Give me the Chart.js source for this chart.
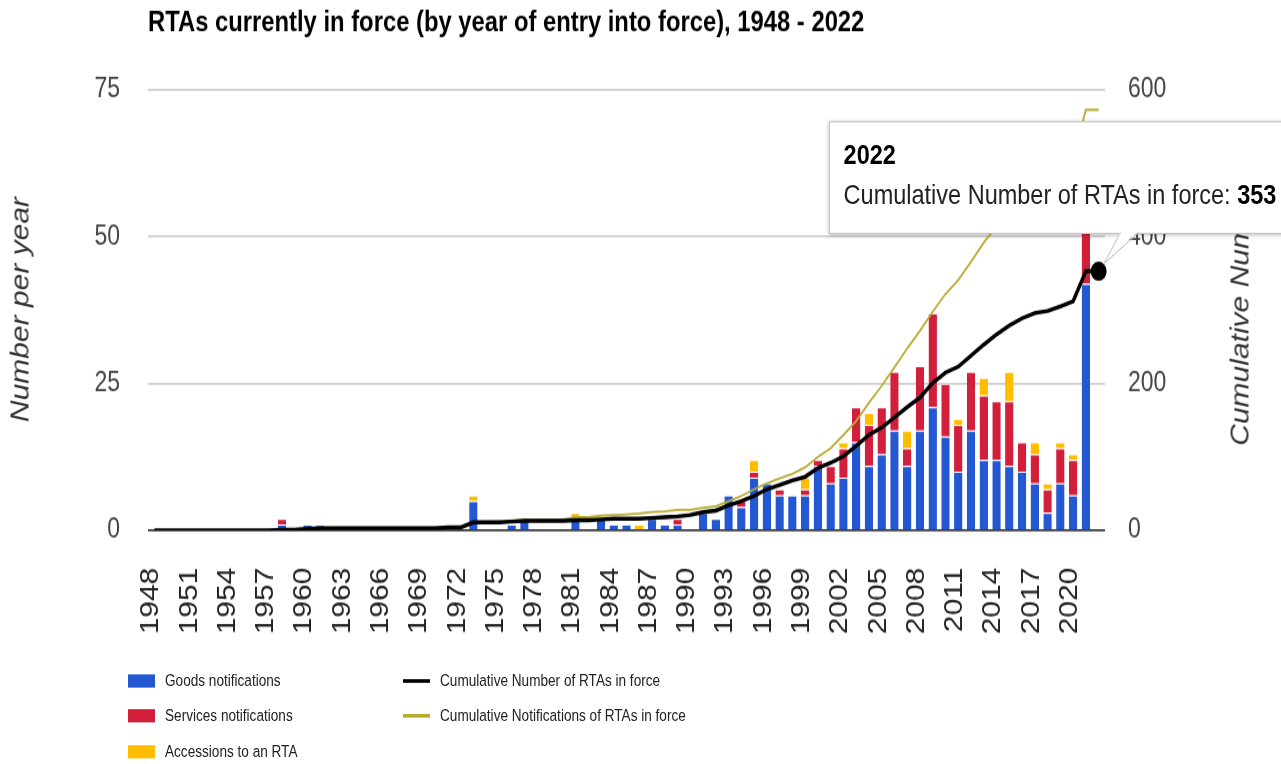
<!DOCTYPE html>
<html><head><meta charset="utf-8">
<script src="https://cdn.jsdelivr.net/npm/chart.js@4.4.1/dist/chart.umd.min.js"></script>
<style>
html,body{margin:0;padding:0;background:#fff;overflow:hidden;width:1281px;height:764px;}
#wrap{position:absolute;left:0;top:0;width:1281px;height:637px;transform:scaleY(1.2);transform-origin:0 0;font-family:"Liberation Sans",Arial,sans-serif;}
#c{position:absolute;left:0;top:0;}
.axt{position:absolute;font-style:italic;font-size:25px;color:#333;white-space:nowrap;transform:translate(-50%,-50%) rotate(-90deg);}
.lg{position:absolute;font-size:13.6px;color:#222;white-space:nowrap;line-height:1;}
.sw{position:absolute;}
#tip{position:absolute;background:#fff;border:1px solid #c4c4c4;box-shadow:0 1px 4px rgba(0,0,0,0.28);width:480px;}
#tip span{position:absolute;white-space:nowrap;line-height:1;font-size:23.5px;color:#222;}
#ptr{position:absolute;left:0;top:0;overflow:visible;}
</style></head>
<body>
<div id="wrap">
  <canvas id="c" width="1281" height="637"></canvas>
  <div class="axt" id="tl">Number per year</div>
  <div class="axt" id="tr">Cumulative Number</div>
  <div id="legend"></div>
  <div id="tip"><span id="tipTitle" style="font-weight:bold;color:#000"></span><span id="tipBody"></span></div>
  <svg id="ptr" width="1281" height="637"></svg>
</div>
<script>
// ---------- data ----------
const years = [1948,1949,1950,1951,1952,1953,1954,1955,1956,1957,
  1958,1959,1960,1961,1962,1963,1964,1965,1966,1967,
  1968,1969,1970,1971,1972,1973,1974,1975,1976,1977,
  1978,1979,1980,1981,1982,1983,1984,1985,1986,1987,
  1988,1989,1990,1991,1992,1993,1994,1995,1996,1997,
  1998,1999,2000,2001,2002,2003,2004,2005,2006,2007,
  2008,2009,2010,2011,2012,2013,2014,2015,2016,2017,
  2018,2019,2020,2021,2022];
const xTickYears = [1948,1951,1954,1957,1960,1963,1966,1969,1972,1975,1978,1981,1984,
  1987,1990,1993,1996,1999,2002,2005,2008,2011,2014,2017,2020];
const leftTicks = [0,25,50,75];
const rightTicks = [0,200,400,600];

const goods = [0,0,0,0,0,0,0,0,0,0,
  1,0,1,1,0,0,0,0,0,0,
  0,0,0,1,0,5,0,0,1,2,
  0,0,0,2,0,2,1,1,0,2,
  1,1,0,3,2,6,4,9,8,6,
  6,6,11,8,9,15,11,13,17,11,
  17,21,16,10,17,12,12,11,10,8,
  3,8,6,42,0];
const services = [0,0,0,0,0,0,0,0,0,0,
  1,0,0,0,0,0,0,0,0,0,
  0,0,0,0,0,0,0,0,0,0,
  0,0,0,0,0,0,0,0,0,0,
  0,1,0,0,0,0,1,1,0,1,
  0,1,1,3,5,6,7,8,10,3,
  11,16,9,8,10,11,10,11,5,5,
  4,6,6,17,0];
const accessions = [0,0,0,0,0,0,0,0,0,0,
  0,0,0,0,0,0,0,0,0,0,
  0,0,0,0,0,1,0,0,0,0,
  0,0,0,1,0,0,0,0,1,0,
  0,0,0,0,0,0,0,2,0,0,
  0,2,0,0,1,0,2,0,0,3,
  0,0,0,1,0,3,0,5,0,2,
  1,1,1,0,0];
const cumulativeInForce = [0,0,0,0,0,0,0,0,0,0,
  1,1,2,3,3,3,3,3,3,3,
  3,3,3,4,4,11,11,11,12,13,
  13,13,13,14,14,15,16,16,16,17,
  18,19,21,25,27,34,40,47,56,62,
  68,73,85,92,101,115,130,140,154,168,
  181,201,215,223,238,253,267,279,289,296,
  299,305,312,353,353];
const cumulativeNotifications = [0,0,0,0,0,0,0,0,0,0,
  2,2,3,4,4,4,4,4,4,4,
  4,4,4,5,5,11,12,12,13,15,
  15,15,15,18,18,20,21,22,23,25,
  26,28,28,31,33,40,47,56,64,71,
  77,86,100,112,130,149,174,197,222,248,
  272,298,322,341,366,392,414,440,455,470,
  478,493,506,573,573];

const barLabels = ['Goods notifications','Services notifications','Accessions to an RTA'];
const barColors = ['#2457d2','#d21f3c','#ffbd00'];
const lineLabels = ['Cumulative Number of RTAs in force','Cumulative Notifications of RTAs in force'];
const lineColors = ['#000000','#b8ac2f'];
const chartTitle = 'RTAs currently in force (by year of entry into force), 1948 - 2022';
const FONT = '"Liberation Sans", Arial, sans-serif';

const lastIdx = years.length - 1;

const chart = new Chart(document.getElementById('c'), {
  data: {
    labels: years,
    datasets: [
      {type:'line', label: lineLabels[0], data: cumulativeInForce, yAxisID:'y1', order:0,
       borderColor: lineColors[0], backgroundColor: lineColors[0], borderWidth:3.4, tension:0,
       pointRadius: c => c.dataIndex === lastIdx ? 8 : 0, pointBackgroundColor:'#000', pointBorderWidth:0},
      {type:'line', label: lineLabels[1], data: cumulativeNotifications, yAxisID:'y1', order:1,
       borderColor: lineColors[1], backgroundColor: lineColors[1], borderWidth:1.8, tension:0, pointRadius:0},
      {type:'bar', label: barLabels[0], data: goods, backgroundColor: barColors[0], yAxisID:'y', order:2,
       borderColor:'#ffffff', borderWidth:{top:1,left:0,right:0,bottom:0}},
      {type:'bar', label: barLabels[1], data: services, backgroundColor: barColors[1], yAxisID:'y', order:2,
       borderColor:'#ffffff', borderWidth:{top:1,left:0,right:0,bottom:0}},
      {type:'bar', label: barLabels[2], data: accessions, backgroundColor: barColors[2], yAxisID:'y', order:2,
       borderColor:'#ffffff', borderWidth:{top:1,left:0,right:0,bottom:0}}
    ]
  },
  options: {
    responsive:false, animation:false, events:[],
    devicePixelRatio:1,
    datasets:{bar:{barPercentage:0.66, categoryPercentage:1}},
    layout:{padding:{top:0,left:0,right:0,bottom:0}},
    plugins:{
      legend:{display:false}, tooltip:{enabled:false},
      title:{display:true, text: chartTitle, align:'start', fullSize:false, color:'#000',
             font:{family:FONT, size:23.8, weight:'bold'}, padding:{top:5,bottom:41.4}}
    },
    scales:{
      x:{stacked:true, grid:{display:false}, border:{display:false},
         afterFit: s => { s.height = 195; },
         ticks:{autoSkip:false, minRotation:90, maxRotation:90, padding:23, color:'#222', labelOffset:-3,
                font:{family:FONT, size:25},
                callback: function(v, i){ const yr = years[i]; return xTickYears.includes(yr) ? String(yr) : ''; }}},
      y:{position:'left', stacked:true, min:leftTicks[0], max:leftTicks[leftTicks.length-1],
         afterFit: s => { s.width = 148; },
         afterBuildTicks: s => { s.ticks = leftTicks.map(v => ({value:v})); },
         border:{display:false},
         grid:{drawTicks:false, lineWidth:1.7, color: c => c.tick && c.tick.value === 0 ? '#3a3a3a' : '#d0d0d0'},
         ticks:{padding:28, color:'#444', font:{family:FONT, size:23}}},
      y1:{position:'right', min:rightTicks[0], max:rightTicks[rightTicks.length-1],
         afterFit: s => { s.width = 176; },
         afterBuildTicks: s => { s.ticks = rightTicks.map(v => ({value:v})); },
         border:{display:false}, grid:{display:false, drawTicks:false},
         ticks:{padding:23, color:'#444', font:{family:FONT, size:23}}}
    }
  }
});

// ---------- axis titles ----------
const ca = chart.chartArea;
const midY = (ca.top + ca.bottom) / 2;
const tl = document.getElementById('tl'); tl.style.left = '20px'; tl.style.top = midY + 'px';
const tr = document.getElementById('tr'); tr.style.left = '1240px'; tr.style.top = (midY + 3) + 'px';

// ---------- legend ----------
const lg = document.getElementById('legend');
const rowY = [567.5, 596.7, 626.7];
barLabels.forEach((lab, i) => {
  const sw = document.createElement('div'); sw.className = 'sw';
  Object.assign(sw.style, {left:'128px', top:(rowY[i]-5.8)+'px', width:'27px', height:'11.6px', background:barColors[i]});
  lg.appendChild(sw);
  const t = document.createElement('div'); t.className = 'lg'; t.textContent = lab;
  Object.assign(t.style, {left:'165px', top:(rowY[i]-6.8)+'px'});
  lg.appendChild(t);
});
lineLabels.forEach((lab, i) => {
  const sw = document.createElement('div'); sw.className = 'sw';
  Object.assign(sw.style, {left:'403px', top:(rowY[i]-1.25)+'px', width:'27px', height:'2.5px', background:lineColors[i]});
  lg.appendChild(sw);
  const t = document.createElement('div'); t.className = 'lg'; t.textContent = lab;
  Object.assign(t.style, {left:'440px', top:(rowY[i]-6.8)+'px'});
  lg.appendChild(t);
});

// ---------- tooltip on the last point ----------
const pt = chart.getDatasetMeta(0).data[lastIdx];
const px = pt.x, py = pt.y;
const tip = document.getElementById('tip');
const boxLeft = px - 270, boxTop = py - 125, boxH = 91.6;
Object.assign(tip.style, {left: boxLeft+'px', top: boxTop+'px', height: boxH+'px'});
const tt = document.getElementById('tipTitle');
tt.textContent = String(years[lastIdx]);
tt.style.left = '14px'; tt.style.top = '15.5px';
const tb = document.getElementById('tipBody');
tb.innerHTML = '';
tb.appendChild(document.createTextNode(lineLabels[0] + ': '));
const bv = document.createElement('b'); bv.style.color = '#000'; bv.textContent = String(cumulativeInForce[lastIdx]);
tb.appendChild(bv);
tb.style.left = '14px'; tb.style.top = '49px';
// pointer
const by = boxTop + boxH + 1;
const svg = document.getElementById('ptr');
const bx1 = px + 22, bx2 = px + 40, tx = px + 5, ty = py - 6;
svg.innerHTML =
  '<polygon points="'+bx1+','+(by-1.5)+' '+bx2+','+(by-1.5)+' '+tx+','+ty+'" fill="#fff" stroke="none"/>' +
  '<polyline points="'+bx1+','+by+' '+tx+','+ty+' '+bx2+','+by+'" fill="none" stroke="#c8c8c8" stroke-width="1"/>';
</script>
</body></html>
